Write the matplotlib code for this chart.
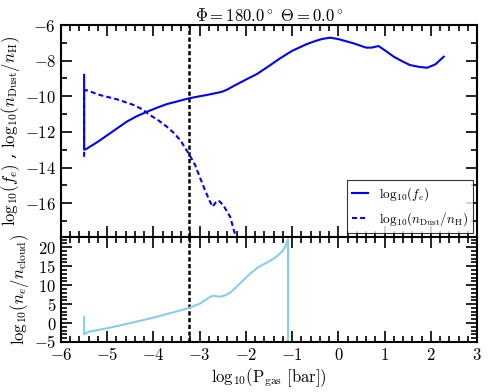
import numpy as np
import matplotlib
matplotlib.use("Agg")
import matplotlib.pyplot as plt
from matplotlib.ticker import MultipleLocator, FuncFormatter

plt.rcParams['mathtext.fontset'] = 'cm'
plt.rcParams['font.family'] = ['DejaVu Serif']

# Data
fe_x = [-5.5, -5.5, -5.46, -5.2, -4.94, -4.58, -4.36, -4.14, -3.92, -3.71, -3.5, -3.24, -3.0,
        -2.85, -2.7, -2.52, -2.4, -2.27, -2.1, -1.95, -1.76, -1.5, -1.26, -1.0, -0.68,
        -0.5, -0.36, -0.18, 0.0, 0.33, 0.60, 0.72, 0.87, 1.05, 1.2, 1.37, 1.55,
        1.75, 1.92, 2.10, 2.28]
fe_y = [-8.8, -13.0, -12.97, -12.55, -12.08, -11.43, -11.12, -10.87, -10.64, -10.44, -10.3,
        -10.12, -10.0, -9.93, -9.85, -9.75, -9.62, -9.43, -9.2, -9.0, -8.75, -8.3, -7.87,
        -7.45, -7.07, -6.9, -6.79, -6.71, -6.79, -7.03, -7.27, -7.27, -7.18, -7.5, -7.78,
        -8.02, -8.25, -8.35, -8.40, -8.21, -7.78]

dust_x = [-5.5, -5.5, -5.46, -5.16, -4.79, -4.43, -4.25, -4.07, -3.89, -3.71, -3.56, -3.42,
          -3.24, -3.1, -3.0, -2.88, -2.78, -2.72, -2.65, -2.59, -2.49, -2.34, -2.23, -2.15]
dust_y = [-13.4, -9.7, -9.65, -9.93, -10.17, -10.49, -10.72, -11.06, -11.36, -11.71, -12.06,
          -12.46, -13.21, -13.85, -14.52, -15.3, -15.9, -16.2, -15.95, -15.85, -16.11, -16.77,
          -17.8, -18.5]

ne_x = [-5.5, -5.5, -5.41, -5.1, -4.79, -4.43, -4.07, -3.64, -3.24, -3.0, -2.85, -2.76,
        -2.70, -2.63, -2.57, -2.45, -2.34, -2.13, -1.91, -1.75, -1.6, -1.45, -1.33, -1.2,
        -1.12, -1.09, -1.09]
ne_y = [1.65, -2.94, -2.33, -1.6, -0.82, 0.2, 1.22, 2.6, 3.95, 5.1, 6.3, 7.0,
        7.2, 7.05, 6.93, 7.3, 8.0, 10.4, 13.0, 14.6, 15.6, 16.6, 17.6, 19.1,
        20.8, 22.1, -6.0]

vline_x = -3.24

xlim = (-6, 3)
top_ylim = (-17.9, -6)
bot_ylim = (-5, 22.7)

fig = plt.figure(figsize=(4.91, 3.92), dpi=100)
L, R = 61 / 491, 477 / 491
T = 1 - 25 / 392
M = 1 - 237 / 392
B = 1 - 342 / 392
ax1 = fig.add_axes([L, M, R - L, T - M])
ax2 = fig.add_axes([L, B, R - L, M - B])

fmt = FuncFormatter(lambda v, p: r'$%d$' % round(v))

for ax in (ax1, ax2):
    ax.set_xlim(*xlim)
    ax.xaxis.set_major_locator(MultipleLocator(1))
    ax.xaxis.set_minor_locator(MultipleLocator(0.2))
    ax.tick_params(which='both', direction='in', top=True, right=True, width=1.2)
    ax.tick_params(which='major', length=8)
    ax.tick_params(which='minor', length=4)
    ax.xaxis.set_major_formatter(fmt)
    ax.yaxis.set_major_formatter(fmt)
    ax.tick_params(labelsize=12)
    for s in ax.spines.values():
        s.set_linewidth(1.5)
    ax.axvline(vline_x, color='black', linestyle='--', linewidth=1.8, dashes=(1.7, 1.0))

ax1.plot(fe_x, fe_y, color='blue', linewidth=1.5, label=r'$\mathrm{log}_{10}(f_e)$')
ax1.plot(dust_x, dust_y, color='blue', linewidth=1.5, linestyle='--', dashes=(2.4, 1.5),
         label=r'$\mathrm{log}_{10}(n_{\rm Dust}/n_{\rm H})$')
ax1.set_ylim(*top_ylim)
ax1.yaxis.set_major_locator(MultipleLocator(2))
ax1.yaxis.set_minor_locator(MultipleLocator(1))
ax1.tick_params(labelbottom=False)
ax1.set_ylabel(r'$\mathrm{log}_{10}(f_e)$ , $\mathrm{log}_{10}(n_{\rm Dust}/n_{\rm H})$',
               fontsize=12, labelpad=2)
ax1.set_title(r'$\Phi = 180.0^\circ$ $\Theta = 0.0^\circ$', fontsize=12, pad=2)
leg = ax1.legend(loc='lower right', fontsize=9.5, handlelength=1.2, frameon=True,
                 fancybox=False, borderaxespad=0.3)
leg.get_frame().set_edgecolor('black')
leg.get_frame().set_linewidth(0.8)

ax2.plot(ne_x, ne_y, color='#87CEEB', linewidth=1.5)
ax2.set_ylim(*bot_ylim)
ax2.yaxis.set_major_locator(MultipleLocator(5))
ax2.yaxis.set_minor_locator(MultipleLocator(1))
ax2.set_ylabel(r'$\mathrm{log}_{10}(n_e/n_{\rm cloud})$', fontsize=12, labelpad=2)
ax2.set_xlabel(r'$\mathrm{log}_{10}(\rm P_{gas}\ [bar])$', fontsize=12, labelpad=2)

fig.savefig('out.png', dpi=100)
